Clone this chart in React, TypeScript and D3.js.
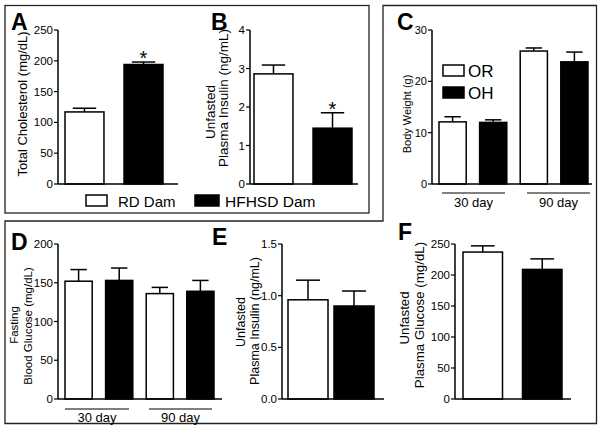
import React from 'react';
import * as d3 from 'd3';

// ---------- data ----------
const damGroups = ['RD Dam', 'HFHSD Dam'];
const offspringGroups = ['OR', 'OH'];
const ageGroups = ['30 day', '90 day'];

const cholesterolMean = [117, 194];
const cholesterolSem = [6, 4];
const cholesterolTicks = [0, 50, 100, 150, 200, 250];

const damInsulinMean = [2.86, 1.45];
const damInsulinSem = [0.23, 0.4];
const damInsulinTicks = [0, 1, 2, 3, 4];

const bodyWeightMean = [12.1, 12.0, 25.9, 23.8];
const bodyWeightSem = [1.0, 0.5, 0.6, 1.9];
const bodyWeightTicks = [0, 10, 20, 30];

const fastingGlucoseMean = [152, 153, 136, 139];
const fastingGlucoseSem = [15, 16, 8, 14];
const fastingGlucoseTicks = [0, 50, 100, 150, 200];

const offInsulinMean = [0.96, 0.9];
const offInsulinSem = [0.19, 0.145];
const offInsulinTicks = [0, 0.5, 1.0, 1.5];

const plasmaGlucoseMean = [237, 209];
const plasmaGlucoseSem = [10, 17];
const plasmaGlucoseTicks = [0, 50, 100, 150, 200, 250];

const FONT = '"Liberation Sans", Arial, Helvetica, sans-serif';

type LabelLine = { text: string; x: number; cy: number };

type PanelProps = {
  letter: string;
  letterX: number;
  letterY: number;
  axisX: number;
  xEnd: number;
  y0: number;
  y1: number;
  ticks: number[];
  tickFmt?: (v: number) => string;
  barRange: [number, number];
  padding: number;
  means: number[];
  sems: number[];
  labels: LabelLine[];
  labelSize: number;
  tickSize?: number;
  stars?: boolean[];
  groupLines?: { labels: string[]; y: number; textY: number; spans: [number, number][] };
};

function Panel(p: PanelProps) {
  const max = p.ticks[p.ticks.length - 1];
  const y = d3.scaleLinear().domain([0, max]).range([p.y0, p.y1]);
  const x = d3
    .scaleBand<number>()
    .domain(p.means.map((_, i) => i))
    .range(p.barRange)
    .paddingInner(p.padding)
    .paddingOuter(0);
  const bw = x.bandwidth();
  const fmt = p.tickFmt || ((v: number) => String(v));
  const ts = p.tickSize || 11.5;
  return (
    <g fontFamily={FONT}>
      <text x={p.letterX} y={p.letterY} fontSize={23} fontWeight="bold">
        {p.letter}
      </text>
      {p.means.map((m, i) => {
        const bx = x(i)!;
        const top = y(m);
        const et = y(m + p.sems[i]);
        const cx = bx + bw / 2;
        return (
          <g key={i}>
            <line x1={cx} x2={cx} y1={top} y2={et} stroke="#000" strokeWidth={1.5} />
            <line x1={cx - bw * 0.3} x2={cx + bw * 0.3} y1={et} y2={et} stroke="#000" strokeWidth={1.5} />
            <rect
              x={bx}
              y={top}
              width={bw}
              height={p.y0 - top}
              fill={i % 2 === 0 ? '#fff' : '#000'}
              stroke="#000"
              strokeWidth={1.5}
            />
            {p.stars && p.stars[i] ? (
              <text x={cx} y={et + 3} fontSize={20} textAnchor="middle">
                *
              </text>
            ) : null}
          </g>
        );
      })}
      <line x1={p.axisX} x2={p.axisX} y1={p.y0} y2={p.y1} stroke="#000" strokeWidth={1.5} />
      <line x1={p.axisX} x2={p.xEnd} y1={p.y0} y2={p.y0} stroke="#000" strokeWidth={1.5} />
      {p.ticks.map((t) => (
        <g key={t}>
          <line x1={p.axisX - 4} x2={p.axisX} y1={y(t)} y2={y(t)} stroke="#000" strokeWidth={1.2} />
          <text x={p.axisX - 5} y={y(t)} dy="0.35em" fontSize={ts} textAnchor="end">
            {fmt(t)}
          </text>
        </g>
      ))}
      {p.labels.map((l, i) => (
        <text
          key={i}
          transform={`translate(${l.x},${l.cy}) rotate(-90)`}
          textAnchor="middle"
          fontSize={p.labelSize}
        >
          {l.text}
        </text>
      ))}
      {p.groupLines
        ? p.groupLines.spans.map((s, i) => (
            <g key={i}>
              <line x1={s[0]} x2={s[1]} y1={p.groupLines!.y} y2={p.groupLines!.y} stroke="#000" strokeWidth={1.2} />
              <text x={(s[0] + s[1]) / 2} y={p.groupLines!.textY} fontSize={13} textAnchor="middle">
                {p.groupLines!.labels[i]}
              </text>
            </g>
          ))
        : null}
    </g>
  );
}

export default function App() {
  return (
    <svg
      width={604}
      height={433}
      style={{ position: 'absolute', left: 0, top: 0, background: '#fff' }}
    >
      <rect x={0} y={0} width={604} height={433} fill="#fff" />
      {/* frames */}
      <rect x={5} y={5.5} width={364} height={207.5} fill="none" stroke="#222" strokeWidth={1.3} />
      <path
        d="M383,5.5 L596.5,5.5 L596.5,423.5 L5,423.5 L5,221 L383,221 Z"
        fill="none"
        stroke="#222"
        strokeWidth={1.3}
      />

      <Panel
        letter="A"
        letterX={11}
        letterY={30}
        axisX={58}
        xEnd={178}
        y0={184}
        y1={30}
        ticks={cholesterolTicks}
        barRange={[65, 163]}
        padding={0.34}
        means={cholesterolMean}
        sems={cholesterolSem}
        labels={[{ text: 'Total Cholesterol (mg/dL)', x: 27, cy: 104 }]}
        labelSize={13}
        stars={[false, true]}
      />
      <Panel
        letter="B"
        letterX={211}
        letterY={30}
        axisX={250}
        xEnd={358}
        y0={184}
        y1={30}
        ticks={damInsulinTicks}
        barRange={[254, 352]}
        padding={0.34}
        means={damInsulinMean}
        sems={damInsulinSem}
        labels={[
          { text: 'Unfasted', x: 215, cy: 112 },
          { text: 'Plasma Insulin (ng/mL)', x: 228, cy: 98 },
        ]}
        labelSize={13.5}
        stars={[false, true]}
      />
      <Panel
        letter="C"
        letterX={397}
        letterY={30}
        axisX={432}
        xEnd={592}
        y0={184}
        y1={30}
        ticks={bodyWeightTicks}
        barRange={[439, 588]}
        padding={0.33}
        means={bodyWeightMean}
        sems={bodyWeightSem}
        labels={[{ text: 'Body Weight (g)', x: 411, cy: 114 }]}
        labelSize={11}
        tickSize={11}
        groupLines={{ labels: ageGroups, y: 193, textY: 207, spans: [[442, 505], [527, 590]] }}
      />
      <Panel
        letter="D"
        letterX={11}
        letterY={250}
        axisX={58}
        xEnd={222}
        y0={399}
        y1={244}
        ticks={fastingGlucoseTicks}
        barRange={[65, 214]}
        padding={0.33}
        means={fastingGlucoseMean}
        sems={fastingGlucoseSem}
        labels={[
          { text: 'Fasting', x: 18, cy: 325 },
          { text: 'Blood Glucose (mg/dL)', x: 32, cy: 326 },
        ]}
        labelSize={11.5}
        groupLines={{ labels: ageGroups, y: 409, textY: 422, spans: [[65, 129], [149, 212]] }}
      />
      <Panel
        letter="E"
        letterX={212}
        letterY={245}
        axisX={282}
        xEnd={384}
        y0={399}
        y1={244}
        ticks={offInsulinTicks}
        tickFmt={(v) => v.toFixed(1)}
        barRange={[288, 374]}
        padding={0.13}
        means={offInsulinMean}
        sems={offInsulinSem}
        labels={[
          { text: 'Unfasted', x: 245, cy: 322 },
          { text: 'Plasma Insulin (ng/mL)', x: 259, cy: 321 },
        ]}
        labelSize={12.5}
      />
      <Panel
        letter="F"
        letterX={398}
        letterY={240}
        axisX={455}
        xEnd={571}
        y0={399}
        y1={244}
        ticks={plasmaGlucoseTicks}
        barRange={[463, 562]}
        padding={0.336}
        means={plasmaGlucoseMean}
        sems={plasmaGlucoseSem}
        labels={[
          { text: 'Unfasted', x: 409, cy: 318 },
          { text: 'Plasma Glucose (mg/dL)', x: 424, cy: 315 },
        ]}
        labelSize={13.3}
      />

      {/* legend A/B */}
      <g fontFamily={FONT}>
        <rect x={86} y={195} width={21} height={11} fill="#fff" stroke="#000" strokeWidth={1.5} />
        <text x={118} y={207} fontSize={15}>{damGroups[0]}</text>
        <rect x={195} y={195} width={24} height={11} fill="#000" stroke="#000" strokeWidth={1.5} />
        <text x={225} y={207} fontSize={15.5}>{damGroups[1]}</text>
        {/* legend C */}
        <rect x={443} y={65} width={21} height={11} fill="#fff" stroke="#000" strokeWidth={1.5} />
        <text x={468} y={77} fontSize={17}>{offspringGroups[0]}</text>
        <rect x={443} y={87} width={21} height={11} fill="#000" stroke="#000" strokeWidth={1.5} />
        <text x={468} y={99} fontSize={17}>{offspringGroups[1]}</text>
      </g>
    </svg>
  );
}
